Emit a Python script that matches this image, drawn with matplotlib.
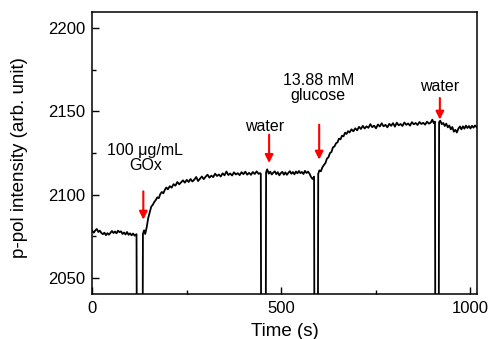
import matplotlib
matplotlib.use("Agg")
import matplotlib.pyplot as plt

plt.rcParams['font.family'] = ['Liberation Sans', 'DejaVu Sans']

# time (s) and p-pol intensity, segment by segment
t_base = [0, 4, 8, 12, 16, 20, 24, 28, 32, 36, 40, 44, 48, 52, 56, 60, 64, 68, 72, 76, 80, 84,
          88, 92, 96, 100, 104, 108, 112, 117]
y_base = [2078.3, 2077.2, 2078.6, 2079.4, 2077.6, 2078.4, 2077.0, 2076.3, 2077.2, 2075.7, 2076.9,
          2076.0, 2077.1, 2078.2, 2077.0, 2077.9, 2076.8, 2078.4, 2077.5, 2078.0, 2076.4, 2077.3,
          2076.1, 2077.6, 2075.9, 2076.8, 2075.6, 2076.7, 2075.4, 2076.3]

t_gox = [134, 137, 140, 144, 148, 152, 156, 160, 164, 168, 172, 176, 180, 184, 188, 192, 196, 200,
         205, 210, 215, 220, 225, 230, 235, 240, 245, 250, 255, 260, 265, 270, 275, 280, 285, 290,
         295, 300, 305, 310, 315, 320, 325, 330, 335, 340, 345, 350, 355, 360, 365, 370, 375, 380,
         385, 390, 395, 400, 405, 410, 415, 420, 425, 430, 435, 440, 444, 446]
y_gox = [2076.5, 2078.6, 2076.4, 2080.5, 2086.0, 2089.5, 2092.8, 2093.9, 2095.6, 2096.8, 2098.4,
         2097.9, 2100.4, 2101.6, 2100.8, 2102.9, 2104.3, 2103.2, 2105.1, 2104.2, 2106.3, 2105.4,
         2107.6, 2106.2, 2107.4, 2108.6, 2107.2, 2108.9, 2107.6, 2109.4, 2107.9, 2109.0, 2110.6,
         2108.2, 2109.5, 2110.9, 2109.3, 2110.8, 2112.0, 2110.2, 2111.4, 2110.5, 2112.6, 2111.2,
         2112.1, 2110.9, 2112.8, 2111.6, 2113.9, 2111.8, 2112.7, 2111.5, 2113.4, 2112.1, 2112.9,
         2111.7, 2113.5, 2112.3, 2113.8, 2112.0, 2113.1, 2111.9, 2113.6, 2112.4, 2114.0, 2112.5,
         2112.9, 2112.6]

t_water1 = [460, 463, 467, 471, 475, 479, 483, 487, 491, 495, 499, 503, 507, 511, 515, 519, 523,
            527, 531, 535, 539, 543, 547, 551, 555, 559, 563, 567, 571, 575, 579, 583, 587]
y_water1 = [2113.4, 2115.2, 2112.6, 2113.8, 2112.1, 2113.2, 2114.0, 2112.3, 2113.5, 2111.6, 2112.9,
            2113.7, 2112.0, 2113.4, 2111.9, 2113.1, 2114.1, 2112.5, 2113.6, 2112.2, 2113.9, 2112.8,
            2114.2, 2112.9, 2113.6, 2112.4, 2114.3, 2113.0, 2113.8, 2112.6, 2110.6, 2109.4, 2110.8]

t_gluc = [598, 601, 605, 609, 613, 617, 621, 625, 629, 633, 637, 641, 645, 649, 653, 657, 661,
          665, 669, 673, 677, 681, 686, 691, 696, 701, 706, 711, 716, 721, 726, 731, 736, 741, 746,
          751, 756, 761, 766, 771, 776, 781, 786, 791, 796, 801, 806, 811, 816, 821, 826, 831, 836,
          841, 846, 851, 856, 861, 866, 871, 876, 881, 886, 891, 896, 900, 904, 907]
y_gluc = [2112.5, 2114.6, 2114.0, 2116.4, 2117.8, 2118.9, 2121.6, 2122.4, 2124.9, 2125.6, 2128.4,
          2128.9, 2130.8, 2131.4, 2133.6, 2133.2, 2135.4, 2135.0, 2137.2, 2136.4, 2138.1, 2137.3,
          2139.2, 2138.0, 2139.8, 2138.6, 2140.7, 2139.4, 2141.3, 2139.7, 2141.0, 2140.1, 2142.3,
          2140.5, 2141.4, 2139.8, 2142.1, 2140.9, 2142.8, 2141.0, 2141.9, 2140.4, 2142.5, 2141.3,
          2142.9, 2140.8, 2143.2, 2141.6, 2142.4, 2141.2, 2143.3, 2141.9, 2142.7, 2141.4, 2143.5,
          2142.2, 2143.0, 2141.8, 2143.6, 2142.4, 2143.1, 2142.0, 2143.8, 2142.6, 2143.3, 2145.0,
          2142.9, 2143.8]

t_water2 = [918, 921, 925, 929, 933, 937, 941, 945, 949, 953, 957, 961, 965, 969, 973, 977, 981,
            985, 989, 993, 997, 1001, 1005, 1009, 1013, 1017]
y_water2 = [2143.5, 2144.4, 2142.3, 2143.0, 2141.2, 2142.6, 2140.4, 2141.5, 2139.2, 2140.6, 2137.8,
            2138.9, 2137.3, 2139.6, 2140.9, 2139.2, 2141.0, 2139.6, 2141.4, 2140.0, 2141.2, 2139.7,
            2141.3, 2140.2, 2141.5, 2140.6]

# solution exchanges: signal drops off the bottom of the scale
t_gaps = [(118, 133), (447, 459), (588, 597), (908, 917)]
y_gap = 2000

# annotations: label lines, label position, arrow tail/tip
labels = [["100 \u03bcg/mL", "GOx"], ["water"], ["13.88 mM", "glucose"], ["water"]]
label_t = [140, 457, 598, 920]
label_y = [2122, 2141, 2164, 2165]
arrow_t = [135, 468, 600.5, 920]
arrow_tail = [2102, 2136, 2142, 2158]
arrow_tip = [2085, 2119, 2121, 2145]

t, y = [], []
segs_t = [t_base, t_gox, t_water1, t_gluc, t_water2]
segs_y = [y_base, y_gox, y_water1, y_gluc, y_water2]
for i in range(len(segs_t)):
    t += segs_t[i]
    y += segs_y[i]
    if i < len(t_gaps):
        t += list(t_gaps[i])
        y += [y_gap, y_gap]

fig = plt.figure(figsize=(4.9, 3.39), dpi=100)
ax = fig.add_axes([0.1884, 0.1327, 0.7856, 0.831])
ax.plot(t, y, color='black', lw=1.3)

ax.set_xlim(0, 1019)
ax.set_ylim(2040.4, 2209.4)
ax.set_xticks([0, 500, 1000])
ax.set_xticks([250, 750], minor=True)
ax.set_yticks([2050, 2100, 2150, 2200])
ax.set_yticks([2075, 2125, 2175], minor=True)
ax.tick_params(which='both', direction='in', labelsize=12, pad=5, width=1)
ax.tick_params(which='major', length=5)
ax.tick_params(which='minor', length=3)
ax.tick_params(axis='x', which='both', top=False)
ax.tick_params(axis='y', which='both', right=False)
for s in ax.spines.values():
    s.set_linewidth(1.1)

for i in range(len(labels)):
    lines = labels[i]
    if len(lines) == 1:
        ax.text(label_t[i], label_y[i], lines[0], ha='center', va='center', fontsize=11.5)
    else:
        ax.text(label_t[i], label_y[i], "\n".join(lines), ha='center', va='center',
                fontsize=11.5, linespacing=1.0)
    ax.annotate('', xy=(arrow_t[i], arrow_tip[i]), xytext=(arrow_t[i], arrow_tail[i]),
                arrowprops=dict(arrowstyle='-|>', color='#ff0000', lw=1.5, mutation_scale=12,
                                shrinkA=0, shrinkB=0))

fig.text(20 / 490, 1 - 158 / 339, 'p-pol intensity (arb. unit)', rotation=90,
         ha='center', va='center', fontsize=13.5)
fig.text(285 / 490, 1 - 331 / 339, 'Time (s)', ha='center', va='center', fontsize=13.5)

fig.savefig('out.png', dpi=100)
